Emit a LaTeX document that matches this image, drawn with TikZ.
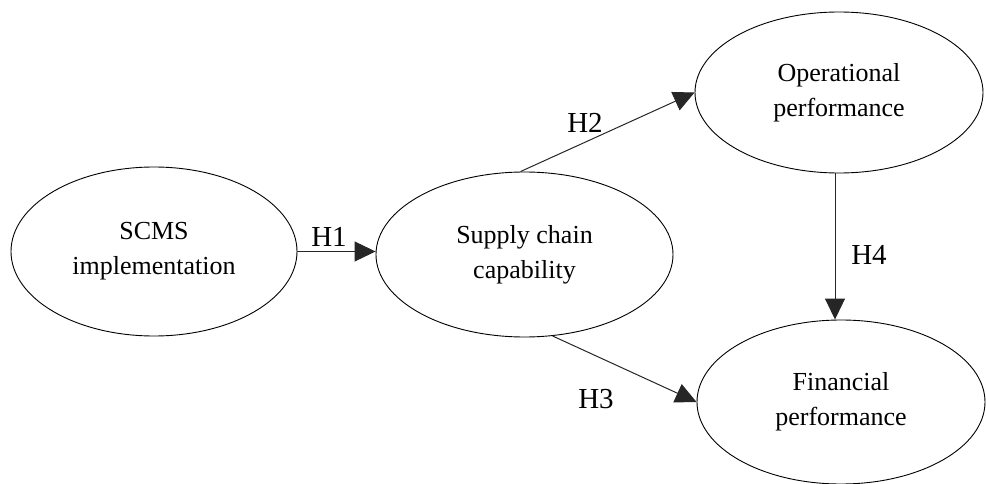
\documentclass[tikz,border=0pt]{standalone}
\usepackage{fontspec}
\setmainfont{Liberation Serif}
\usetikzlibrary{shapes.geometric,arrows.meta}
\begin{document}
\begin{tikzpicture}[x=1pt,y=-1pt,
  oval/.style={draw=black, line width=0.9pt, ellipse, inner sep=0pt, align=center,
    font=\fontsize{26}{35}\selectfont},
  arr/.style={draw=black!85, line width=1pt, -{Triangle[length=21pt,width=20pt]}},
  hlab/.style={font=\fontsize{29}{34}\selectfont, inner sep=0pt}]
\useasboundingbox (0,0) rectangle (986,484);
\node[oval, minimum width=286pt, minimum height=169pt] (scms) at (154,251.5) {SCMS\\implementation};
\node[oval, minimum width=297pt, minimum height=165pt] (sc) at (524.5,254.5) {Supply chain\\capability};
\node[oval, minimum width=288pt, minimum height=161pt] (op) at (839,92.5) {Operational\\performance};
\node[oval, minimum width=288pt, minimum height=164pt] (fin) at (841,402) {Financial\\performance};
\draw[arr] (scms.east) -- (scms.east -| sc.west);
\draw[arr] ([xshift=-4pt]sc.north) -- (op.west);
\draw[arr] (sc.-71) -- (fin.west);
\draw[arr] ([xshift=-4pt]op.south) -- ([xshift=-4pt]op.south |- fin.north);
\node[hlab] (h1) at (329,237) {H1};
\node[hlab] (h2) at (585,123) {H2};
\node[hlab] (h3) at (596,399) {H3};
\node[hlab] (h4) at (869,255) {H4};
\end{tikzpicture}
\end{document}
